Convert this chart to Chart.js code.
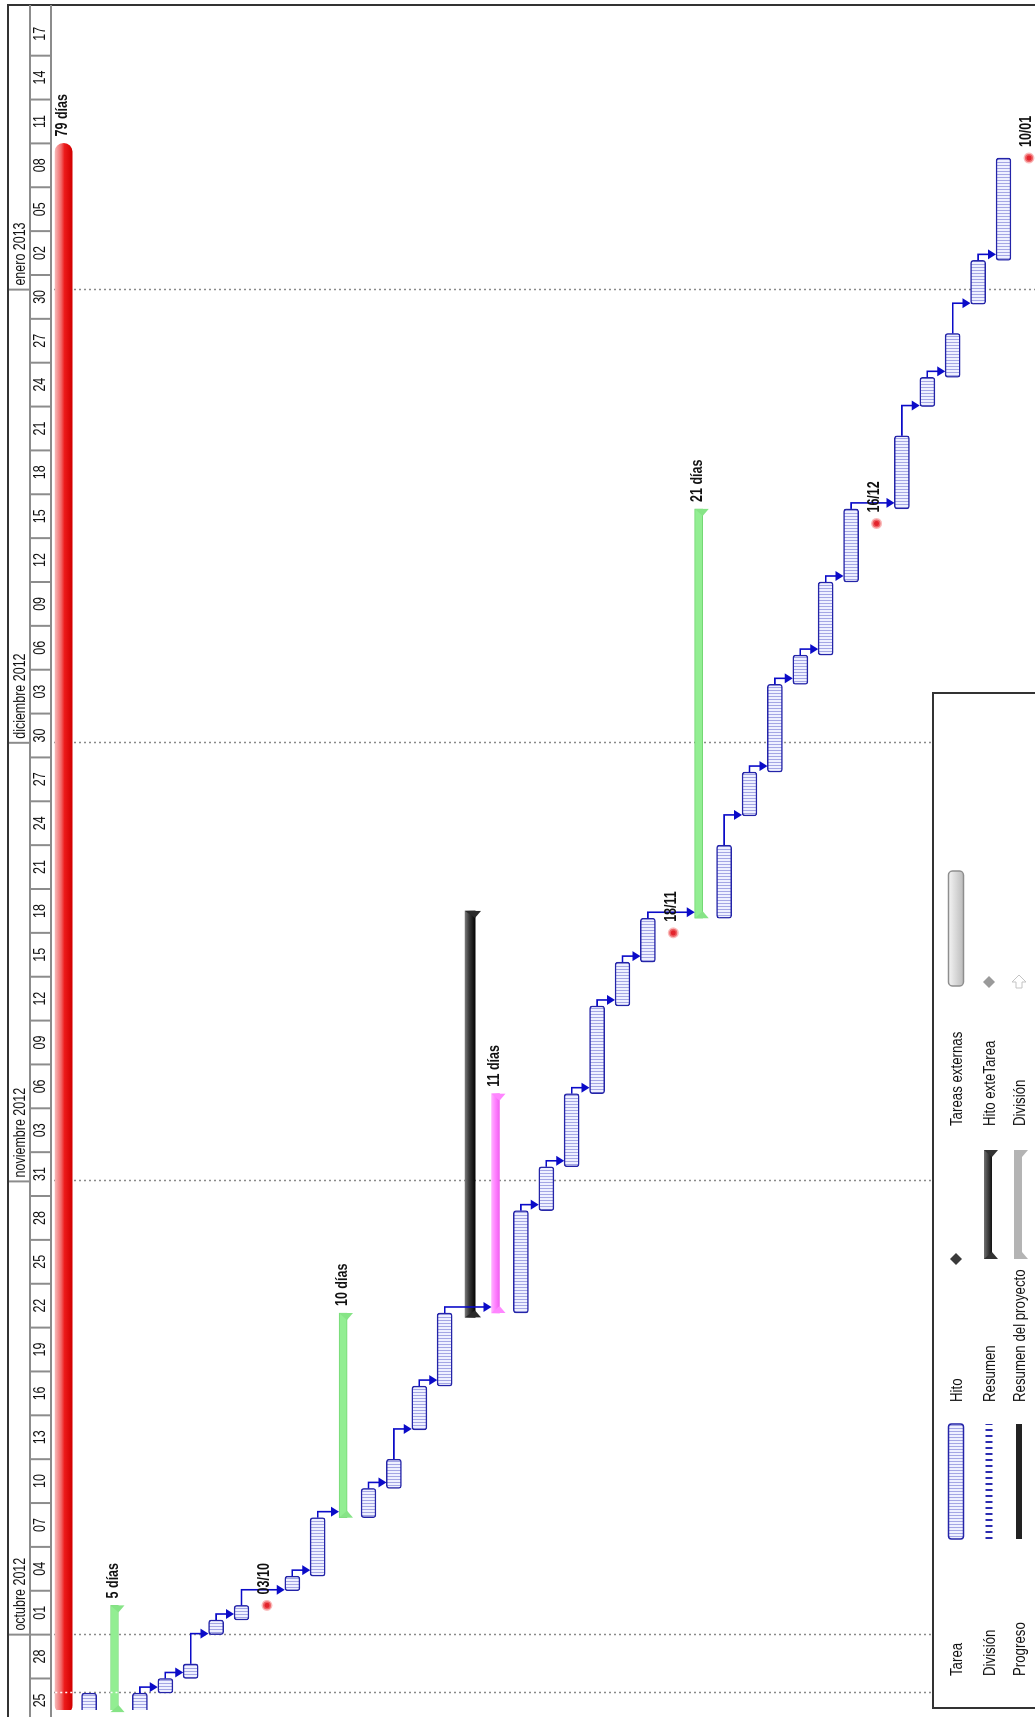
<!DOCTYPE html>
<html lang="es">
<head>
<meta charset="UTF-8">
<title>Diagrama de Gantt</title>
<script src="https://cdn.jsdelivr.net/npm/chart.js"></script>
<style>
  body { margin: 0; background: #fff; overflow: hidden; width: 1035px; height: 1717px; }
  /* the sheet is drawn landscape and turned a quarter turn, as in the printout */
  #hoja {
    position: absolute; left: 0; top: 0; width: 1717px; height: 1035px;
    overflow: hidden; background: #fff;
    transform-origin: 0 0; transform: translate(0, 1717px) rotate(-90deg);
  }
  #gantt { position: absolute; left: 0; top: 0; }
  #leyenda { position: absolute; left: 0; top: 0; }
</style>
</head>
<body>
<div id="hoja">
  <canvas id="gantt" width="1717" height="1074"></canvas>
  <svg id="leyenda" width="1717" height="1035" font-family="'Liberation Sans', Arial, sans-serif" font-size="17">
    <defs>
      <pattern id="rayas" width="3" height="4" patternUnits="userSpaceOnUse">
        <rect width="3" height="4" fill="#eef0ff"/><rect width="1" height="4" fill="#a4a6e4"/>
      </pattern>
      <linearGradient id="gris" x1="0" y1="0" x2="0" y2="1">
        <stop offset="0" stop-color="#f4f4f4"/><stop offset="1" stop-color="#bcbcbc"/>
      </linearGradient>
      <linearGradient id="negro" x1="0" y1="0" x2="0" y2="1">
        <stop offset="0" stop-color="#707070"/><stop offset="1" stop-color="#111"/>
      </linearGradient>
    </defs>
    <polyline points="9,1040 9,933 1024,933 1024,1040" fill="none" stroke="#333" stroke-width="2"/>
    <g dominant-baseline="central" fill="#111">
      <text transform="translate(41,956) scale(0.78,1)">Tarea</text>
      <text transform="translate(41,989) scale(0.78,1)">División</text>
      <text transform="translate(41,1019) scale(0.78,1)">Progreso</text>
      <text transform="translate(315,956) scale(0.78,1)">Hito</text>
      <text transform="translate(315,989) scale(0.78,1)">Resumen</text>
      <text transform="translate(315,1019) scale(0.78,1)">Resumen del proyecto</text>
      <text transform="translate(591,956) scale(0.78,1)">Tareas externas</text>
      <text transform="translate(591,989) scale(0.78,1)">Hito exteTarea</text>
      <text transform="translate(591,1019) scale(0.78,1)">División</text>
    </g>
    <rect x="178" y="948.5" width="115" height="15" rx="3" fill="url(#rayas)" stroke="#2424a8" stroke-width="1.5"/>
    <line x1="178" y1="989" x2="293" y2="989" stroke="#2b2bb0" stroke-width="7" stroke-dasharray="2 4"/>
    <rect x="178" y="1016" width="115" height="6" fill="#222"/>
    <polygon points="458,950 464,956 458,962 452,956" fill="#3a3a3a"/>
    <rect x="458" y="984" width="109" height="8" fill="url(#negro)"/>
    <polygon points="458,984 458,998 465,992" fill="#333"/>
    <polygon points="567,984 567,998 560,992" fill="#333"/>
    <rect x="458" y="1014" width="109" height="8" fill="#b4b4b4"/>
    <polygon points="458,1014 458,1028 465,1022" fill="#b4b4b4"/>
    <polygon points="567,1014 567,1028 560,1022" fill="#b4b4b4"/>
    <rect x="731" y="948.5" width="115" height="15" rx="4" fill="url(#gris)" stroke="#8e8e8e" stroke-width="1.5"/>
    <polygon points="735,983 741,989 735,995 729,989" fill="#9a9a9a"/>
    <polygon points="729,1016 735,1016 735,1012 742,1019 735,1026 735,1022 729,1022" fill="none" stroke="#c4c4c4" stroke-width="1"/>
  </svg>
</div>

<script>
// rows of the gantt, top to bottom of the printed sheet
const filas = ['1','2','3','4','5','6','7','8','9','10','11','12','13','14','15','16','17','18','19','20',
               '21','22','23','24','25','26','27','28','29','30','31','32','33','34','35','36','37','38','39','40'];
const tipos = ['proyecto','tarea','fase','tarea','tarea','tarea','tarea','tarea','hito','tarea',
               'tarea','fase','tarea','tarea','tarea','tarea','resumen','rosa','tarea','tarea',
               'tarea','tarea','tarea','tarea','hito','fase','tarea','tarea','tarea','tarea',
               'tarea','tarea','hito','tarea','tarea','tarea','tarea','tarea','hito',''];
// days counted from 1 oct 2012
const inicio = [-5.4, -5.3, -5.3, -5.3, -4, -3, 0, 1, 2, 3,
                4, 8, 8, 10, 14, 17, 21.7, 22, 22, 29,
                32, 37, 43, 46, 48, 49, 49, 56, 59, 65,
                67, 72, 76, 77, 84, 86, 91, 94, 101, null];
const fin = [102, -4, 2, -4, -3, -2, 1, 2, 2, 4,
             8, 22, 10, 12, 17, 22, 49.5, 37, 29, 32,
             37, 43, 46, 49, 48, 77, 54, 59, 65, 67,
             72, 77, 76, 82, 86, 89, 94, 101, 101, null];
// finish-to-start links [predecessor, successor]
const vinculos = [[3,4],[4,5],[5,6],[6,7],[7,9],[9,10],[10,11],[12,13],[13,14],[14,15],[15,17],
                  [18,19],[19,20],[20,21],[21,22],[22,23],[23,25],[26,27],[27,28],[28,29],[29,30],
                  [30,31],[31,33],[33,34],[34,35],[35,36],[36,37]];
const filasDuracion = [0, 2, 11, 17, 25];
const textosDuracion = ['79 días', '5 días', '10 días', '11 días', '21 días'];
const textosHito = ['03/10', '18/11', '16/12', '10/01'];

// timescale
const meses = ['octubre 2012', 'noviembre 2012', 'diciembre 2012', 'enero 2013'];
const inicioMes = [0, 31, 61, 92];
const etiquetasDias = ['25','28','01','04','07','10','13','16','19','22','25','28','31',
                       '03','06','09','12','15','18','21','24','27','30',
                       '03','06','09','12','15','18','21','24','27','30',
                       '02','05','08','11','14','17'];
const primeraCelda = -6;   // 25 sep
const diaHoy = -4;

const pxDia = 14.74;
const ejeMin = -76 / pxDia;
const ejeMax = (1717 - 76) / pxDia;

const grosor = { tarea: 15, proyecto: 17, fase: 8, rosa: 8, resumen: 10, hito: 10 };
const FUENTE = '"Liberation Sans", Arial, sans-serif';
const ESTRECHO = 0.78;   // the printout uses a narrow face

function serie(tipo) {
  return filas.map((f, i) => tipos[i] === tipo ? [inicio[i], fin[i]] : null);
}
const hitos = [];
tipos.forEach((t, i) => { if (t === 'hito') hitos.push({ x: inicio[i], y: filas[i] }); });

// hatched fill of the task bars
const muestra = document.createElement('canvas');
muestra.width = 3; muestra.height = 4;
const mctx = muestra.getContext('2d');
mctx.fillStyle = '#eef0ff'; mctx.fillRect(0, 0, 3, 4);
mctx.fillStyle = '#a4a6e4'; mctx.fillRect(0, 0, 1, 4);

function degradado(colores, fila, alto) {
  const plano = colores[Math.floor(colores.length / 2)][1];
  return (c) => {
    const y = c.chart.scales.y;
    if (!y || !c.chart.chartArea) return plano;
    const yc = y.getPixelForValue(fila);
    if (!isFinite(yc)) return plano;
    const g = c.chart.ctx.createLinearGradient(0, yc - alto / 2, 0, yc + alto / 2);
    colores.forEach(([p, col]) => g.addColorStop(p, col));
    return g;
  };
}

function texto(ctx, t, u, v, align) {
  ctx.save();
  ctx.translate(u, v);
  ctx.scale(ESTRECHO, 1);
  ctx.textAlign = align;
  ctx.fillText(t, 0, 0);
  ctx.restore();
}

const cabecera = {
  id: 'cabecera',
  beforeDatasetsDraw(chart) {
    const { ctx, scales: { x } } = chart;
    ctx.save();
    // month lines and current date, dotted
    ctx.setLineDash([2, 3]);
    ctx.lineWidth = 1.5;
    ctx.strokeStyle = '#8a8a8a';
    inicioMes.concat([diaHoy]).forEach(d => {
      const u = Math.round(x.getPixelForValue(d)) + 0.5;
      const hasta = (u > 9 && u < 1024) ? 933 : 1074;
      ctx.beginPath(); ctx.moveTo(u, 54); ctx.lineTo(u, hasta); ctx.stroke();
    });
    ctx.setLineDash([]);

    // outer frame
    ctx.strokeStyle = '#333';
    ctx.lineWidth = 2;
    ctx.beginPath(); ctx.moveTo(0, 8); ctx.lineTo(1712, 8); ctx.lineTo(1712, 1074); ctx.stroke();

    // month row
    ctx.strokeStyle = '#8c8c8c';
    ctx.fillStyle = '#111';
    ctx.font = '16px ' + FUENTE;
    ctx.textBaseline = 'middle';
    meses.forEach((m, i) => {
      const u = x.getPixelForValue(inicioMes[i]);
      ctx.beginPath(); ctx.moveTo(u, 9); ctx.lineTo(u, 30); ctx.stroke();
      texto(ctx, m, u + 4, 21, 'left');
    });
    ctx.beginPath(); ctx.moveTo(0, 30); ctx.lineTo(1712, 30); ctx.stroke();
    ctx.beginPath(); ctx.moveTo(0, 51); ctx.lineTo(1712, 51); ctx.stroke();

    // day row
    etiquetasDias.forEach((t, k) => {
      const d = primeraCelda + 3 * k;
      const u = x.getPixelForValue(d);
      ctx.beginPath(); ctx.moveTo(u, 30); ctx.lineTo(u, 51); ctx.stroke();
      texto(ctx, t, x.getPixelForValue(d + 1.5), 41, 'center');
    });
    ctx.restore();
  }
};

const marcas = {
  id: 'marcas',
  afterDatasetsDraw(chart) {
    const { ctx, scales: { x, y } } = chart;
    ctx.save();
    // dotted current date line shows white over the coloured bars
    ctx.setLineDash([2, 3]);
    ctx.lineWidth = 1.5;
    ctx.strokeStyle = '#fff';
    const uh = Math.round(x.getPixelForValue(diaHoy)) + 0.5;
    [0, 2].forEach(f => {
      const v = y.getPixelForValue(f), g = grosor[tipos[f]] / 2;
      ctx.beginPath(); ctx.moveTo(uh, v - g); ctx.lineTo(uh, v + g); ctx.stroke();
    });
    ctx.setLineDash([]);

    // end marks of the summary bars
    const colorFin = { fase: '#86e486', rosa: '#ff86ff', resumen: '#2a2a2a' };
    tipos.forEach((t, i) => {
      if (!colorFin[t]) return;
      const v = y.getPixelForValue(i), g = grosor[t] / 2;
      const a = x.getPixelForValue(inicio[i]), b = x.getPixelForValue(fin[i]);
      ctx.fillStyle = colorFin[t];
      ctx.beginPath(); ctx.moveTo(a, v - g); ctx.lineTo(a, v + g + 6); ctx.lineTo(a + 7, v + g); ctx.closePath(); ctx.fill();
      ctx.beginPath(); ctx.moveTo(b, v - g); ctx.lineTo(b, v + g + 6); ctx.lineTo(b - 7, v + g); ctx.closePath(); ctx.fill();
    });

    // links
    ctx.strokeStyle = '#0b0bc8';
    ctx.fillStyle = '#0b0bc8';
    ctx.lineWidth = 1.6;
    vinculos.forEach(([p, s]) => {
      const uFin = x.getPixelForValue(fin[p]);
      const uIni = x.getPixelForValue(inicio[s]);
      const vP = y.getPixelForValue(p);
      const vS = y.getPixelForValue(s) - grosor[tipos[s]] / 2;
      const uc = Math.max(uFin + 6, uIni + 1);
      ctx.beginPath(); ctx.moveTo(uFin, vP); ctx.lineTo(uc, vP); ctx.lineTo(uc, vS - 6); ctx.stroke();
      ctx.beginPath(); ctx.moveTo(uc - 5, vS - 8); ctx.lineTo(uc + 5, vS - 8); ctx.lineTo(uc, vS); ctx.closePath(); ctx.fill();
    });

    // labels
    ctx.fillStyle = '#111';
    ctx.font = 'bold 16px ' + FUENTE;
    ctx.textBaseline = 'middle';
    filasDuracion.forEach((f, k) => {
      texto(ctx, textosDuracion[k], x.getPixelForValue(fin[f]) + 7, y.getPixelForValue(f) - 1, 'left');
    });
    hitos.forEach((h, k) => {
      texto(ctx, textosHito[k], x.getPixelForValue(h.x) + 11, y.getPixelForValue(filas.indexOf(h.y)) - 2, 'left');
    });
    ctx.restore();
  }
};

const ctx = document.getElementById('gantt').getContext('2d');
new Chart(ctx, {
  type: 'bar',
  data: {
    labels: filas,
    datasets: [
      {
        type: 'scatter', label: 'Hito', data: hitos,
        pointStyle: 'circle', pointRadius: 4, pointBorderWidth: 3,
        backgroundColor: '#e3242c', borderColor: 'rgba(245,140,140,0.6)'
      },
      {
        label: 'Tarea', data: serie('tarea'), grouped: false, barThickness: grosor.tarea,
        backgroundColor: mctx.createPattern(muestra, 'repeat'),
        borderColor: '#2424a8', borderWidth: 1.5, borderRadius: 3, borderSkipped: false
      },
      {
        label: 'Resumen', data: serie('resumen'), grouped: false, barThickness: grosor.resumen,
        backgroundColor: degradado([[0, '#777'], [0.4, '#3a3a3a'], [1, '#050505']], 16, grosor.resumen),
        borderSkipped: false
      },
      {
        label: 'Fase', data: serie('rosa'), grouped: false, barThickness: grosor.rosa,
        backgroundColor: degradado([[0, '#ffb0ff'], [0.5, '#ff80ff'], [1, '#f060f0']], 17, grosor.rosa),
        borderSkipped: false
      },
      {
        label: 'Fase', data: serie('fase'), grouped: false, barThickness: grosor.fase,
        backgroundColor: '#92ee92', borderColor: '#74d874', borderWidth: 1, borderSkipped: false
      },
      {
        label: 'Resumen del proyecto', data: serie('proyecto'), grouped: false, barThickness: grosor.proyecto,
        backgroundColor: degradado([[0, '#f6b4b4'], [0.35, '#f26868'], [0.55, '#ec1a1a'], [1, '#d20000']], 0, grosor.proyecto),
        borderRadius: 8.5, borderSkipped: false
      }
    ]
  },
  options: {
    indexAxis: 'y',
    responsive: false,
    animation: false,
    events: [],
    layout: { padding: { top: 51, left: 0, right: 0, bottom: 0 } },
    plugins: { legend: { display: false }, tooltip: { enabled: false } },
    scales: {
      x: { type: 'linear', min: ejeMin, max: ejeMax, display: false },
      y: { type: 'category', display: false }
    }
  },
  plugins: [cabecera, marcas]
});
</script>
</body>
</html>
